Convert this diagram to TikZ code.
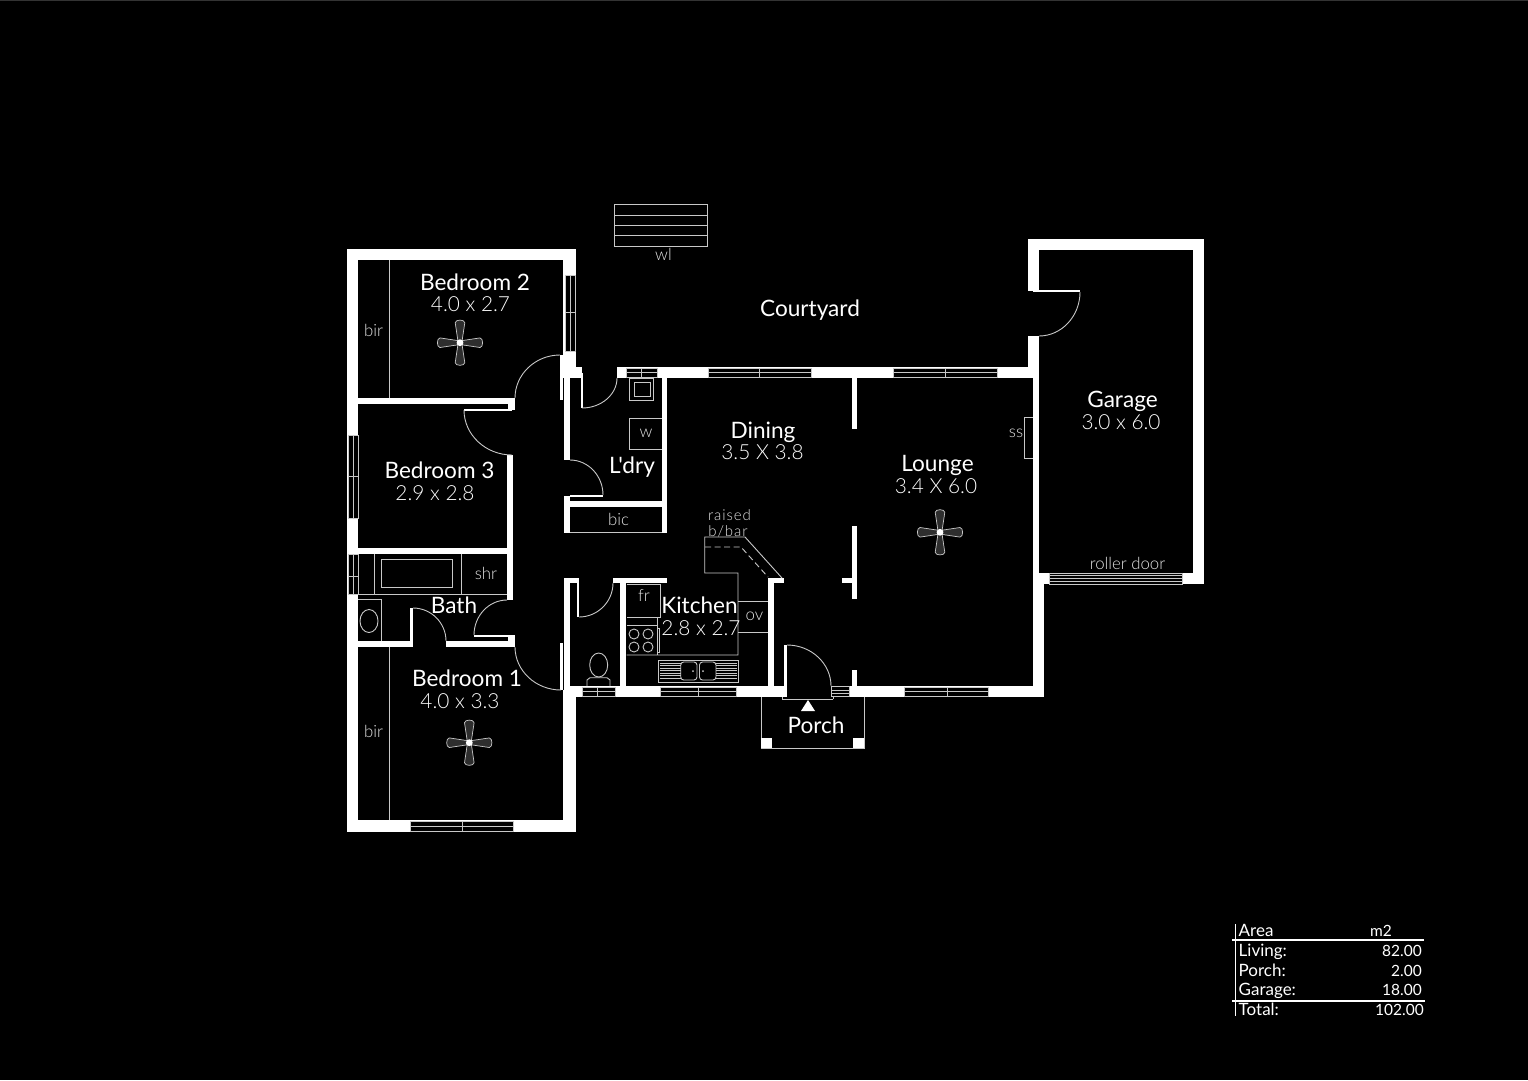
\documentclass[tikz,border=0pt]{standalone}
\usepackage{fontspec}
\setmainfont{Lato}
\newfontfamily\lightfont{Lato Light}
\newfontfamily\plainfont{Lato}
\usetikzlibrary{calc}
\definecolor{ln}{HTML}{C8C8C8}
\definecolor{blade}{HTML}{2E2E2E}
\definecolor{smalltext}{HTML}{E4E4E4}
\definecolor{edgeline}{HTML}{333333}
\tikzset{
  thinl/.style={draw=ln,line width=0.9pt},
  roomlabel/.style={text=white,inner sep=0pt,font=\fontsize{22.6}{23}\selectfont},
  dimlabel/.style={text=white,inner sep=0pt,font=\lightfont\fontsize{20.8}{21}\selectfont},
  smalllabel/.style={text=smalltext,inner sep=0pt,font=\lightfont\fontsize{16.8}{17}\selectfont},
  barlabel/.style={text=smalltext,inner sep=0pt,font=\lightfont\fontsize{15}{15}\selectfont\addfontfeature{LetterSpace=6}},
  tablelabel/.style={text=white,inner sep=0pt,anchor=base west,font=\fontsize{17}{17}\selectfont},
  tablenum/.style={text=white,inner sep=0pt,anchor=base east,font=\fontsize{15.5}{16}\selectfont},
}
\newcommand{\wallr}[4]{\fill[white] (#1,#2) rectangle (#3,#4);}
\newcommand{\winh}[5]{\filldraw[fill=black,thinl] (#1,#2) rectangle (#3,#4);
  \draw[thinl] (#1,{(#2+#4)/2}) -- (#3,{(#2+#4)/2}) (#5,#2) -- (#5,#4);}
\newcommand{\winv}[5]{\filldraw[fill=black,thinl] (#1,#2) rectangle (#3,#4);
  \draw[thinl] ({(#1+#3)/2},#2) -- ({(#1+#3)/2},#4) (#1,#5) -- (#3,#5);}
\newcommand{\qarc}[3]{\draw[thinl] (#1) .. controls ($(#1)!0.55!(#2)$) and ($(#3)!0.55!(#2)$) .. (#3);}
\newcommand{\fan}[2]{\begin{scope}[shift={(#1,#2)}]
  \foreach \r in {0,90,180,270}{
    \filldraw[rotate=\r,fill=blade,draw=ln,line width=0.7pt] (0,-1.8) -- (20,-4.8) .. controls (23.5,-4.5) and (23.5,4.5) .. (20,4.8) -- (0,1.8) -- cycle;}
  \fill[white] (0,0) circle[radius=3.4pt];
\end{scope}}
\begin{document}
\begin{tikzpicture}[x=1pt,y=-1pt]
\useasboundingbox (0,0) rectangle (1528,1080);
\fill[black] (0,0) rectangle (1528,1080);
\fill[edgeline] (0,0) rectangle (1528,1);
% --- outer & inner walls
\wallr{347}{249}{576}{260}
\wallr{347}{249}{358}{832}
\wallr{563}{249}{576}{367}
\wallr{563}{367}{582}{378}
\wallr{564}{378}{570}{460}
\wallr{358}{398}{515}{404}
\wallr{508}{404}{515}{410}
\wallr{464}{408.6}{512}{410.8}
\wallr{507}{455}{513}{600}
\wallr{347}{548}{513}{554}
\wallr{358}{641}{412}{647}
\wallr{446}{641}{515}{647}
\wallr{410}{608}{413}{647}
\wallr{474}{635}{510}{637}
\wallr{508}{635}{515}{647}
\wallr{347}{820}{576}{832}
\wallr{563}{690}{576}{832}
\wallr{564}{578}{570}{697}
\wallr{564}{578}{578}{583}
\wallr{577}{578}{579}{617}
\wallr{613}{578}{667}{583}
\wallr{620}{583}{626}{687}
\wallr{564}{686}{785}{697}
\wallr{768}{578}{774}{686}
\wallr{768}{578}{784}{583}
\wallr{784}{645}{787}{697}
\wallr{849}{686}{1044}{697}
\wallr{852}{670}{857}{686}
\wallr{852}{526}{857}{599}
\wallr{842}{578}{852}{583}
\wallr{852}{378}{857}{429}
\wallr{617}{367}{1039}{378}
\wallr{662}{378}{667}{533}
\wallr{564}{496}{570}{533}
\wallr{570}{501}{662}{507}
\wallr{570}{495}{603}{497}
\wallr{581}{373}{583}{408}
\wallr{1028}{239}{1204}{250}
\wallr{1028}{239}{1039}{291}
\wallr{1033}{290}{1080}{292}
\wallr{1028}{336}{1039}{378}
\wallr{1033}{378}{1039}{585}
\wallr{1033}{572.7}{1050}{584}
\wallr{1033}{584}{1044}{697}
\wallr{1193}{239}{1204}{584}
\wallr{1182.7}{572.7}{1204}{584}
\wallr{560.2}{355}{562.6}{400}
\wallr{560.2}{643}{562.6}{690}
% --- windows
\winv{565}{275}{575}{351}{312.5}
\winv{348}{435}{358}{518}{476}
\winv{348}{554}{358}{594}{576}
\winh{410}{821}{513}{831}{462}
\winh{582}{687}{615}{696}{597}
\winh{660}{687}{736}{696}{698}
\winh{904}{687}{988}{696}{947}
\winh{626}{368}{657}{377}{641}
\winh{708}{368}{811}{377}{759}
\winh{893}{368}{997}{377}{945}
\filldraw[fill=black,thinl] (831,686.5) rectangle (849,696.5);
\draw[thinl] (831,690) -- (849,690) (831,693) -- (849,693);
\filldraw[fill=black,thinl] (1049.7,573) rectangle (1182.7,584);
\foreach \yy in {575.6,578.4,581.2}{\draw[thinl] (1049.7,\yy) -- (1182.7,\yy);}
% --- door arcs
\qarc{515,398}{515,355}{560,355}
\qarc{464,410}{464,455}{512,455}
\qarc{582,408}{617,408}{617,378}
\qarc{570,460}{603,460}{603,495}
\qarc{507,600}{474,600}{474,635}
\qarc{413,608}{446,608}{446,641}
\qarc{515,647}{515,690}{561,690}
\qarc{579,617}{613,617}{613,583}
\qarc{787,645}{831,645}{831,686}
\qarc{1080,292}{1080,336}{1039,336}
% --- built-ins
\draw[thinl] (389,260) -- (389,398);
\draw[thinl] (389,647) -- (389,820);
\draw[thinl] (629.5,378) rectangle (653,400);
\draw[thinl] (634,382) rectangle (650,396);
\draw[thinl] (662,418) -- (629.5,418) -- (629.5,449) -- (662,449);
\draw[thinl] (570,532.8) -- (662,532.8);
% bath
\draw[thinl] (358,594.5) -- (507,594.5);
\draw[thinl] (374.5,554) -- (374.5,594.5) (461,554) -- (461,594.5);
\draw[thinl] (381,559) rectangle (452,587);
\draw[thinl] (358,599) -- (381,599) -- (381,641);
\draw[thinl] (369,621) ellipse[x radius=9pt,y radius=11.5pt];
% toilet
\draw[thinl] (598.7,665) ellipse[x radius=9pt,y radius=12pt];
\draw[thinl] (587,686) -- (587,680) -- (590,677.7) -- (607,677.7) -- (610,680) -- (610,686);
% kitchen
\draw[thinl] (626.5,584) -- (660.5,584) -- (660.5,617) -- (626.5,617);
\draw[thinl] (626.5,625) -- (657,625) -- (657,617);
\draw[thinl] (657,625) -- (657,655);
\draw[thinl] (657,628) -- (659.5,628) -- (659.5,652) -- (657,652);
\foreach \cx in {634,648}{\foreach \cy in {634,647}{\draw[thinl] (\cx,\cy) circle[radius=5pt];}}
\draw[thinl] (626.5,655) -- (738,655) -- (738,573) -- (704.7,573) -- (704.7,537) -- (745,537) -- (782,578);
\draw[thinl,dash pattern=on 6pt off 3.5pt] (705,547) -- (741,547) -- (768,577);
\draw[thinl] (738,601) -- (768,601) (738,632.5) -- (768,632.5);
\draw[thinl] (658.5,660.5) rectangle (738,682);
\draw[thinl,rounded corners=3pt] (680.7,662) rectangle (697,680);
\draw[thinl,rounded corners=3pt] (699.5,662) rectangle (716,680);
\fill[ln] (693,671) circle[radius=1pt] (703,671) circle[radius=1pt];
\foreach \yy in {663,665.5,668,670.5,673,675.5,678}{\draw[ln,line width=0.5pt] (660,\yy) -- (680.7,\yy) (716,\yy) -- (736.5,\yy);}
% porch
\draw[thinl] (761,697) -- (761,748) -- (864,748) -- (864,697);
\draw[thinl] (782,699.2) -- (833,699.2) (782,699.2) -- (782,697) (833,699.2) -- (833,697);
\wallr{761}{738}{772}{748}
\wallr{853}{738}{864}{748}
\fill[white] (808,700) -- (815,711) -- (801,711) -- cycle;
% wl
\draw[thinl] (614,204.5) rectangle (707,246);
\draw[thinl] (614,215) -- (707,215) (614,225.3) -- (707,225.3) (614,235.7) -- (707,235.7);
% ss
\draw[thinl] (1033,417.7) -- (1024,417.7) -- (1024,458) -- (1033,458);
% fans
\fan{460}{342.7}
\fan{469.3}{742.7}
\fan{940}{532.3}
% table
\draw[white,line width=1.5pt] (1235.7,924) -- (1235.7,1016);
\draw[white,line width=1.5pt] (1232,940) -- (1424,940) (1232,1001) -- (1425,1001);
% --- labels
\node[roomlabel] (lb2) at (475,282) {Bedroom 2};
\node[dimlabel] (db2) at (470.5,304) {4.0 x 2.7};
\node[roomlabel] (lb3) at (439.5,470) {Bedroom 3};
\node[dimlabel] (db3) at (435,493) {2.9 x 2.8};
\node[roomlabel] (lbath) at (454,605) {Bath};
\node[roomlabel] (lb1) at (467,678) {Bedroom 1};
\node[dimlabel] (db1) at (460,701) {4.0 x 3.3};
\node[roomlabel] (lkit) at (699.5,605) {Kitchen};
\node[dimlabel] (dkit) at (701,628) {2.8 x 2.7};
\node[roomlabel] (llau) at (632,467) {\plainfont L'dry};
\node[roomlabel] (ldin) at (763,432) {Dining};
\node[dimlabel] (ddin) at (762.5,452) {3.5 X 3.8};
\node[roomlabel] (llou) at (937.5,465) {Lounge};
\node[dimlabel] (dlou) at (936,486) {3.4 X 6.0};
\node[roomlabel] (lgar) at (1122.5,401) {Garage};
\node[dimlabel] (dgar) at (1121,422) {3.0 x 6.0};
\node[roomlabel] (lpor) at (816,725) {Porch};
\node[roomlabel] (lcou) at (810,310) {Courtyard};
\node[smalllabel] (sbir2) at (373.5,330) {bir};
\node[smalllabel] (sbir1) at (373.5,731) {bir};
\node[smalllabel] (sshr) at (486,573) {shr};
\node[smalllabel] (sw) at (646,433) {w};
\node[smalllabel] (sbic) at (618.5,519) {bic};
\node[smalllabel] (sfr) at (644,595) {fr};
\node[smalllabel] (sov) at (754.5,616) {ov};
\node[smalllabel] (sss) at (1016,433) {ss};
\node[smalllabel] (swl) at (663.5,254) {wl};
\node[barlabel] (srais) at (729.5,515.5) {raised};
\node[barlabel] (sbar) at (728,531) {b/bar};
\node[smalllabel] (sroll) at (1127.5,563) {roller door};
\node[tablelabel] (tarea) at (1238.5,936.7) {Area};
\node[tablenum,anchor=base] (tm2) at (1381,936.7) {m2};
\node[tablelabel] (tliv) at (1238.5,956) {Living:};
\node[tablenum] (vliv) at (1422,956) {82.00};
\node[tablelabel] (tpor) at (1238.5,976) {Porch:};
\node[tablenum] (vpor) at (1422,976) {2.00};
\node[tablelabel] (tgar) at (1238.5,995) {Garage:};
\node[tablenum] (vgar) at (1422,995) {18.00};
\node[tablelabel] (ttot) at (1238.5,1015) {Total:};
\node[tablenum] (vtot) at (1424,1015) {102.00};
\end{tikzpicture}
\end{document}
